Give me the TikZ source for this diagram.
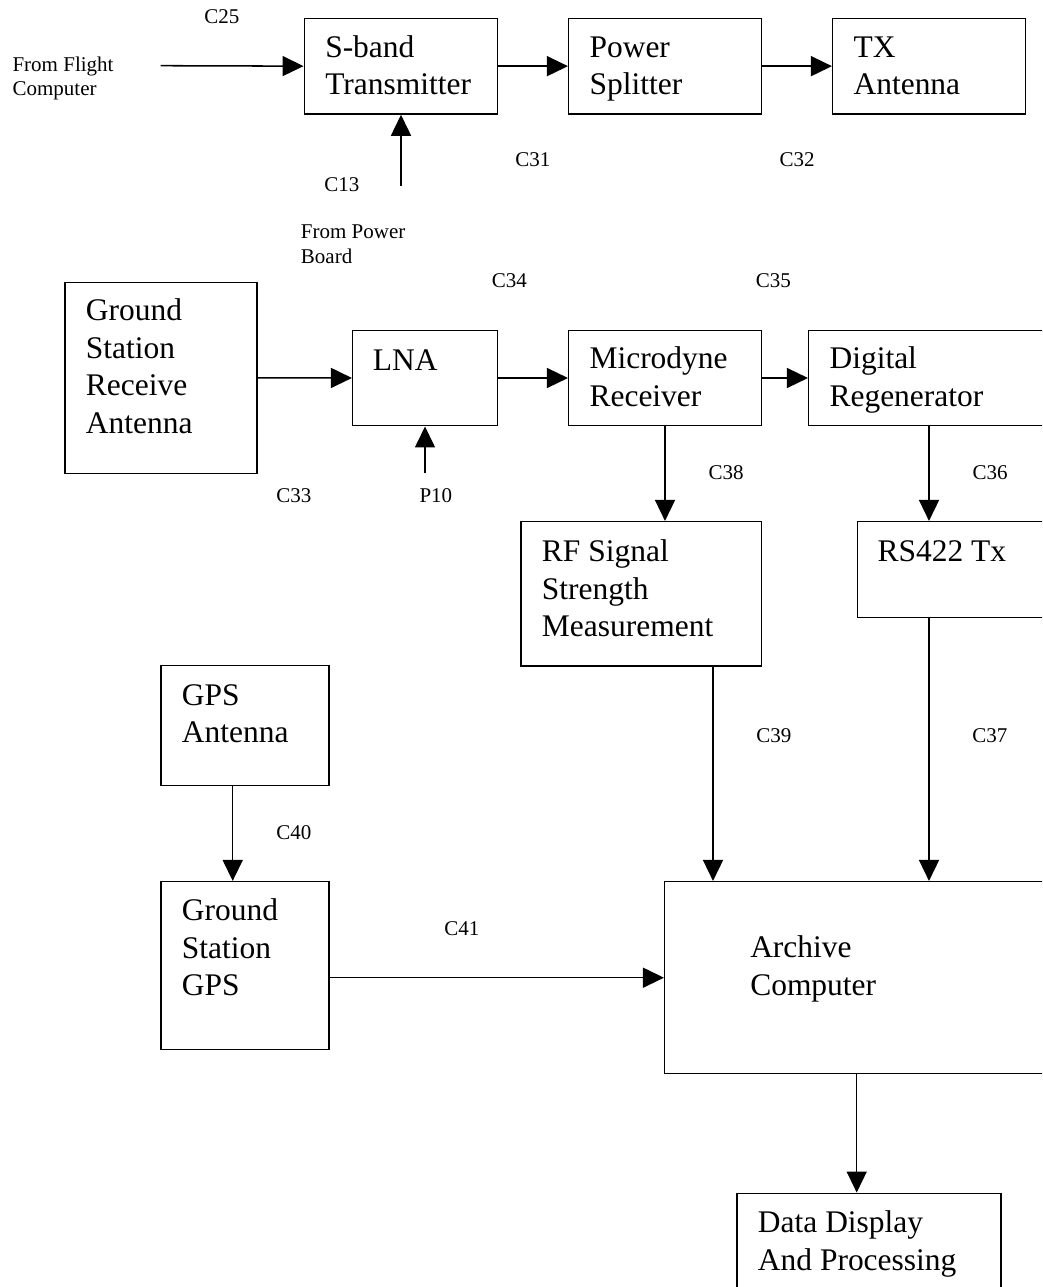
\documentclass[tikz,border=0pt]{standalone}
\usepackage{fontspec}
\setmainfont{Liberation Serif}
\usetikzlibrary{arrows.meta,fit}

\begin{document}
\begin{tikzpicture}[x=0.75pt,y=-0.75pt,
  box/.style={draw, line width=1.15pt, inner sep=0pt},
  % multi-line texts are placed by the baseline of their last line
  btxt/.style={anchor=base west, inner sep=0pt, align=left,
    font=\fontsize{23.6}{28.2}\selectfont},
  lbl/.style={anchor=base west, inner sep=0pt, align=left,
    font=\fontsize{15.75}{18.5}\selectfont},
  link/.style={line width=1.15pt, -{Triangle[length=15.75pt,width=15pt]}}]

% page frame
\useasboundingbox (0,0) rectangle (1042,1287);
\fill[white] (0,0) rectangle (1042,1287);
\clip (0,0) rectangle (1042,1287);

% ---- transmit chain ----
\node[box, fit={(304.3,18.3) (497.3,114)}] (sband) {};
\node[box, fit={(568.7,18.3) (761.3,114)}] (split) {};
\node[box, fit={(832.7,18.3) (1025.3,114)}] (txant) {};

\node[btxt] (sbandT) at (325,95) {S-band\\Transmitter};
\node[btxt] (splitT) at (589.3,95) {Power\\Splitter};
\node[btxt] (txantT) at (853.3,95) {TX\\Antenna};

\coordinate (fc) at (160.7,65.7);
\coordinate (pb) at (401,186);
\draw[link] (fc) -- (sband.west);
\draw[link] (pb) -- (pb |- sband.south);
\draw[link] (sband.east) -- (split.west);
\draw[link] (split.east) -- (txant.west);

\node[lbl] (fcT) at (12.3,95.7) {From Flight\\Computer};
\node[lbl] (c25) at (204,24) {C25};
\node[lbl] (c13) at (324,192) {C13};
\node[lbl] (pbT) at (300.7,263.3) {From Power\\Board};
\node[lbl] (c31) at (515,166.7) {C31};
\node[lbl] (c32) at (779.3,166.7) {C32};

% ---- receive chain ----
\node[box, fit={(65,282.3) (257,473.3)}] (gsant) {};
\node[box, fit={(352.7,330.3) (497.3,425.7)}] (lna) {};
\node[box, fit={(568.7,330.3) (761.3,425.7)}] (micro) {};
\node[box, fit={(808.7,330.3) (1049.3,425.7)}] (dreg) {};
\node[box, fit={(521,521.7) (761.3,666)}] (rfss) {};
\node[box, fit={(857.3,521.7) (1060,617.7)}] (rs) {};

\node[btxt] (gsantT) at (85.7,433.3) {Ground\\Station\\Receive\\Antenna};
\node[btxt] (lnaT) at (372.7,370) {LNA};
\node[btxt] (microT) at (589.3,406) {Microdyne\\Receiver};
\node[btxt] (dregT) at (829.3,406) {Digital\\Regenerator};
\node[btxt] (rfssT) at (541.7,636.9) {RF Signal\\Strength\\Measurement};
\node[btxt] (rsT) at (877.3,561.7) {RS422 Tx};

\coordinate (p10) at (425,473.3);
\draw[link] (gsant.east) -- (lna.west);
\draw[link] (p10) -- (p10 |- lna.south);
\draw[link] (lna.east) -- (micro.west);
\draw[link] (micro.east) -- (dreg.west);
\draw[link] (micro.south) -- (micro.south |- rfss.north);
\draw[link] (dreg.south) -- (dreg.south |- rs.north);

\node[lbl] (c34) at (491.7,287.3) {C34};
\node[lbl] (c35) at (755.7,287.3) {C35};
\node[lbl] (c33) at (276,502.3) {C33};
\node[lbl] (p10T) at (419.3,502.3) {P10};
\node[lbl] (c38) at (708.3,479) {C38};
\node[lbl] (c36) at (972.3,479) {C36};

% ---- GPS and archive ----
\node[box, fit={(161,665.7) (329,785.7)}] (gpsant) {};
\node[box, fit={(161,881.7) (329,1049.3)}] (gsgps) {};
\node[box, fit={(664.7,881.7) (1048.7,1073.7)}] (arch) {};
\node[box, fit={(737,1193.3) (1001,1310)}] (ddp) {};

\node[btxt] (gpsantT) at (181.7,742.6) {GPS\\Antenna};
\node[btxt] (gsgpsT) at (181.7,995.9) {Ground\\Station\\GPS};
\node[btxt] (archT) at (750,995) {Archive\\Computer};
\node[btxt] (ddpT) at (757.7,1270) {Data Display\\And Processing};

\coordinate (x39) at (713,0);
\coordinate (x40) at (232.7,0);
\coordinate (y41) at (0,977.7);
\draw[link] (x39 |- rfss.south) -- (x39 |- arch.north);
\draw[link] (dreg.south |- rs.south) -- (dreg.south |- arch.north);
\draw[link] (x40 |- gpsant.south) -- (x40 |- gsgps.north);
\draw[link] (y41 -| gsgps.east) -- (arch.west);
\draw[link] (arch.south) -- (arch.south |- ddp.north);

\node[lbl] (c39) at (756,742.7) {C39};
\node[lbl] (c37) at (972,742.7) {C37};
\node[lbl] (c40) at (276,839.3) {C40};
\node[lbl] (c41) at (444,935) {C41};
\end{tikzpicture}
\end{document}
